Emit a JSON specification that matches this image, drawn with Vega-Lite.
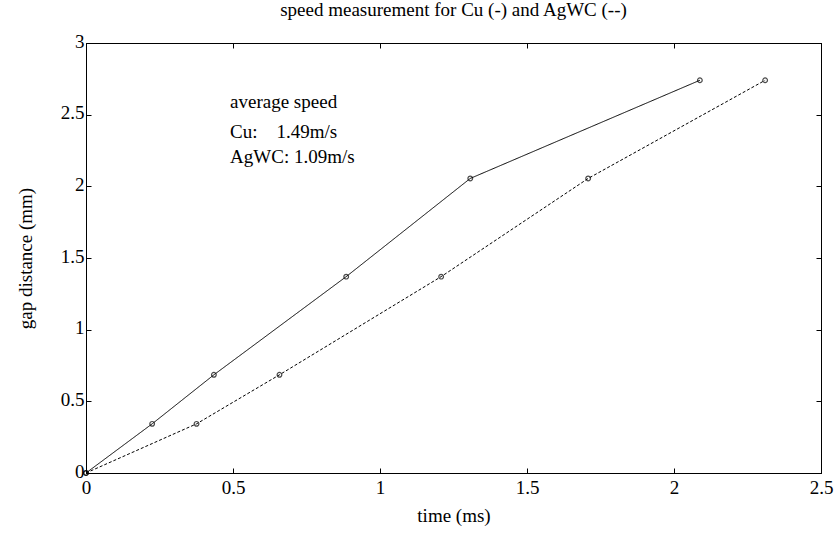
{
  "$schema": "https://vega.github.io/schema/vega-lite/v6.json",
  "width": 735,
  "height": 430,
  "autosize": {"type": "none"},
  "padding": {"left": 86, "top": 43, "right": 16, "bottom": 67},
  "background": "white",
  "title": {"text": "speed measurement for Cu (-) and AgWC (--)", "font": "Liberation Serif", "fontSize": 19, "fontWeight": "normal", "color": "black", "offset": 12},
  "config": {
    "view": {"stroke": "black", "strokeWidth": 1},
    "axis": {"grid": false, "domainColor": "black", "tickColor": "black", "labelColor": "black", "titleColor": "black", "labelFont": "Liberation Serif", "titleFont": "Liberation Serif", "labelFontSize": 19, "titleFontSize": 19, "titleFontWeight": "normal", "tickSize": -5}
  },
  "datasets": {
    "meas": [
      {"series": "Cu", "time": 0, "gap": 0},
      {"series": "Cu", "time": 0.225, "gap": 0.343},
      {"series": "Cu", "time": 0.435, "gap": 0.685},
      {"series": "Cu", "time": 0.885, "gap": 1.37},
      {"series": "Cu", "time": 1.307, "gap": 2.055},
      {"series": "Cu", "time": 2.088, "gap": 2.74},
      {"series": "AgWC", "time": 0, "gap": 0},
      {"series": "AgWC", "time": 0.376, "gap": 0.343},
      {"series": "AgWC", "time": 0.658, "gap": 0.685},
      {"series": "AgWC", "time": 1.208, "gap": 1.37},
      {"series": "AgWC", "time": 1.708, "gap": 2.055},
      {"series": "AgWC", "time": 2.31, "gap": 2.74}
    ],
    "notes": [
      {"label": "average speed", "time": 0.49, "gap": 2.547},
      {"label": "Cu:\u00a0\u00a0\u00a0\u00a01.49m/s", "time": 0.49, "gap": 2.34},
      {"label": "AgWC: 1.09m/s", "time": 0.49, "gap": 2.163}
    ]
  },
  "resolve": {"axis": {"x": "independent", "y": "independent"}},
  "layer": [
    {
      "data": {"name": "meas"},
      "mark": {"type": "line", "color": "black", "strokeWidth": 1},
      "encoding": {
        "x": {"field": "time", "type": "quantitative", "scale": {"domain": [0, 2.5], "nice": false, "zero": false},
              "axis": {"title": "time (ms)", "values": [0, 0.5, 1, 1.5, 2, 2.5], "format": "~g", "labelPadding": 10, "titlePadding": 9, "labelFlush": false}},
        "y": {"field": "gap", "type": "quantitative", "scale": {"domain": [0, 3], "nice": false, "zero": false},
              "axis": {"title": "gap distance (mm)", "values": [0, 0.5, 1, 1.5, 2, 2.5, 3], "format": "~g", "labelPadding": 7, "labelOffset": -2, "titlePadding": 25, "labelFlush": false}},
        "detail": {"field": "series"},
        "strokeDash": {"field": "series", "type": "nominal", "scale": {"domain": ["Cu", "AgWC"], "range": [[1, 0], [3, 2]]}, "legend": null}
      }
    },
    {
      "data": {"name": "meas"},
      "mark": {"type": "point", "shape": "circle", "filled": false, "color": "black", "size": 22, "strokeWidth": 1.2},
      "encoding": {
        "x": {"field": "time", "type": "quantitative", "scale": {"domain": [0, 2.5], "nice": false, "zero": false},
              "axis": {"orient": "top", "title": null, "labels": false, "values": [0, 0.5, 1, 1.5, 2, 2.5]}},
        "y": {"field": "gap", "type": "quantitative", "scale": {"domain": [0, 3], "nice": false, "zero": false},
              "axis": {"orient": "right", "title": null, "labels": false, "values": [0, 0.5, 1, 1.5, 2, 2.5, 3]}}
      }
    },
    {
      "data": {"name": "notes"},
      "mark": {"type": "text", "align": "left", "baseline": "alphabetic", "font": "Liberation Serif", "fontSize": 19, "color": "black"},
      "encoding": {
        "x": {"field": "time", "type": "quantitative", "scale": {"domain": [0, 2.5], "nice": false, "zero": false}, "axis": null},
        "y": {"field": "gap", "type": "quantitative", "scale": {"domain": [0, 3], "nice": false, "zero": false}, "axis": null},
        "text": {"field": "label"}
      }
    }
  ]
}
